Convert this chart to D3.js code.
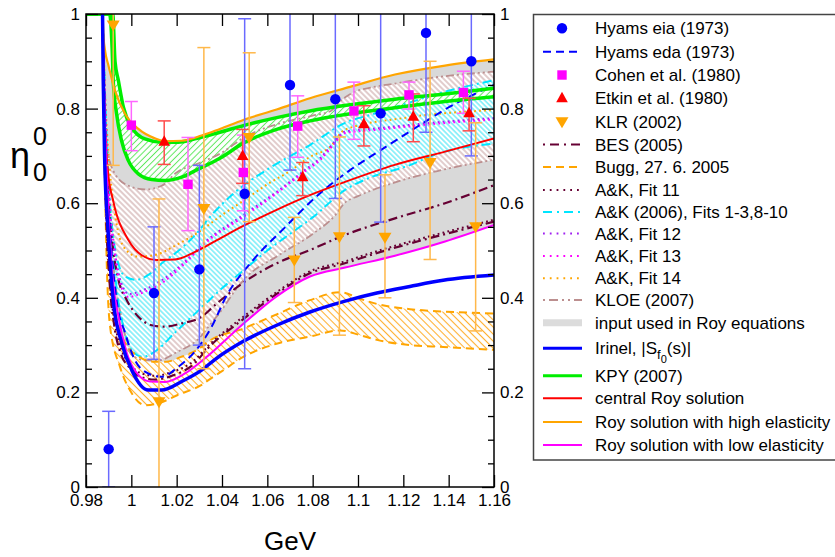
<!DOCTYPE html>
<html><head><meta charset="utf-8">
<script src="https://cdn.jsdelivr.net/npm/d3@7"></script>
<style>
body{margin:0;background:#fff}
text{font-family:"Liberation Sans",Arial,Helvetica,sans-serif;fill:#000}
</style>
</head><body>
<svg id="chart" width="835" height="557"></svg>
<script>
// ---------- measured points with error bars ----------
const hyamsE   = [0.99, 1.01, 1.03, 1.05, 1.07, 1.09, 1.11, 1.13, 1.15];
const hyamsEta = [0.08, 0.41, 0.46, 0.62, 0.85, 0.82, 0.79, 0.96, 0.90];
const hyamsLo  = [0.00, 0.27, 0.30, 0.25, 0.67, 0.61, 0.56, 0.75, 0.70];
const hyamsHi  = [0.16, 0.55, 0.68, 0.99, 1.03, 1.03, 1.02, 1.17, 1.10];

const cohenE   = [1.0, 1.025, 1.0494, 1.0734, 1.0982, 1.1225, 1.1465];
const cohenEta = [0.765, 0.64, 0.665, 0.763, 0.795, 0.829, 0.834];
const cohenLo  = [0.711, 0.542, 0.584, 0.697, 0.735, 0.799, 0.790];
const cohenHi  = [0.815, 0.739, 0.744, 0.827, 0.856, 0.856, 0.879];

const etkinE   = [1.0145, 1.0491, 1.0756, 1.1026, 1.1244, 1.149];
const etkinEta = [0.730, 0.700, 0.655, 0.767, 0.783, 0.790];
const etkinLo  = [0.682, 0.642, 0.616, 0.721, 0.730, 0.753];
const etkinHi  = [0.774, 0.756, 0.686, 0.806, 0.831, 0.822];

const klrE   = [0.992, 1.0122, 1.032, 1.052, 1.0719, 1.0918, 1.1119, 1.1318, 1.1519];
const klrEta = [0.977, 0.180, 0.589, 0.739, 0.480, 0.529, 0.528, 0.686, 0.550];
const klrLo  = [0.680, -0.25, 0.250, 0.561, 0.390, 0.321, 0.400, 0.481, 0.330];
const klrHi  = [1.280, 0.609, 0.929, 0.918, 0.570, 0.740, 0.660, 0.900, 0.770];

// ---------- curves: [E (GeV), eta] ----------
const royHigh = [[0.9873,1],[0.9877,0.955],[0.9885,0.92],[0.9898,0.893],[0.9928,0.838],[0.9972,0.789],[1.0031,0.757],[1.0104,0.737],[1.0149,0.731],[1.0222,0.732],[1.031,0.743],[1.0391,0.757],[1.0494,0.776],[1.0641,0.798],[1.0788,0.822],[1.0965,0.846],[1.1163,0.872],[1.1384,0.891],[1.16,0.904]];
const royCentral = [[0.9873,1],[0.9877,0.9],[0.9882,0.78],[0.9898,0.662],[0.992,0.605],[0.9987,0.522],[1.0046,0.49],[1.0112,0.48],[1.0193,0.481],[1.0281,0.497],[1.037,0.52],[1.0494,0.552],[1.0641,0.586],[1.0788,0.617],[1.0943,0.645],[1.1162,0.681],[1.1384,0.709],[1.16,0.737]];
const royLow = [[0.9873,1],[0.9877,0.9],[0.9883,0.78],[0.9895,0.62],[0.9913,0.466],[0.9943,0.36],[0.998,0.283],[1.0031,0.237],[1.0082,0.223],[1.0149,0.222],[1.0237,0.24],[1.0325,0.272],[1.0494,0.345],[1.0641,0.403],[1.0788,0.445],[1.0943,0.464],[1.1163,0.489],[1.1384,0.519],[1.16,0.554]];
const irinel = [[0.9873,1],[0.9876,0.86],[0.9882,0.7],[0.9898,0.536],[0.992,0.395],[0.9958,0.304],[1.0002,0.247],[1.0075,0.205],[1.0134,0.205],[1.0222,0.223],[1.031,0.247],[1.037,0.27],[1.0494,0.308],[1.0641,0.342],[1.0788,0.37],[1.0935,0.392],[1.1083,0.41],[1.1229,0.424],[1.1376,0.437],[1.16,0.448]];
const kpyUpper = [[0.98,1],[0.9918,1],[0.9928,0.9],[0.9943,0.859],[0.9965,0.803],[1.0002,0.76],[1.006,0.736],[1.0134,0.729],[1.0207,0.729],[1.0281,0.736],[1.0391,0.75],[1.0494,0.764],[1.0641,0.781],[1.0788,0.795],[1.0965,0.808],[1.1163,0.82],[1.1384,0.831],[1.16,0.843]];
const kpyLower = [[0.98,1],[0.9904,1],[0.9915,0.93],[0.992,0.86],[0.9935,0.789],[0.9957,0.732],[0.9987,0.69],[1.0031,0.662],[1.009,0.65],[1.0149,0.648],[1.0222,0.655],[1.0295,0.672],[1.0391,0.695],[1.0494,0.727],[1.0641,0.756],[1.0788,0.774],[1.0965,0.789],[1.1163,0.802],[1.1384,0.815],[1.16,0.825]];
const hyamsEda = [[0.9873,1],[0.988,0.85],[0.989,0.68],[0.9905,0.55],[0.9935,0.395],[0.9973,0.325],[1.0016,0.268],[1.0075,0.24],[1.0134,0.233],[1.0207,0.254],[1.0295,0.295],[1.035,0.335],[1.0421,0.405],[1.0538,0.48],[1.068,0.55],[1.083,0.62],[1.0965,0.67],[1.1109,0.715],[1.1256,0.76],[1.1405,0.804],[1.16,0.85]];
const besUpper = [[0.9873,1],[0.9882,0.8],[0.9895,0.64],[0.992,0.501],[0.9943,0.438],[0.998,0.395],[1.0031,0.36],[1.009,0.342],[1.0149,0.339],[1.0222,0.346],[1.031,0.36],[1.037,0.385],[1.0494,0.432],[1.0641,0.473],[1.0788,0.501],[1.0943,0.533],[1.1163,0.568],[1.1384,0.6],[1.16,0.638]];
const besLower = [[0.9873,1],[0.988,0.75],[0.989,0.56],[0.9906,0.42],[0.9925,0.34],[0.9955,0.28],[0.9987,0.255],[1.0046,0.232],[1.0104,0.227],[1.0178,0.235],[1.0266,0.256],[1.0347,0.298],[1.0494,0.355],[1.0641,0.408],[1.0788,0.452],[1.0935,0.472],[1.11,0.497],[1.13,0.524],[1.16,0.561]];
const akFit11 = [[0.9873,1],[0.9882,0.72],[0.9892,0.55],[0.9908,0.42],[0.9928,0.345],[0.9958,0.288],[0.999,0.262],[1.0046,0.24],[1.0104,0.235],[1.0178,0.243],[1.0266,0.263],[1.0347,0.302],[1.0494,0.36],[1.0641,0.412],[1.0788,0.456],[1.0935,0.476],[1.11,0.501],[1.13,0.528],[1.16,0.565]];
const akFit12 = [[0.9873,1],[0.9887,0.78],[0.9902,0.62],[0.9927,0.5],[0.9953,0.435],[0.999,0.408],[1.006,0.418],[1.0134,0.437],[1.0222,0.47],[1.0325,0.518],[1.0494,0.575],[1.0641,0.624],[1.076,0.668],[1.083,0.694],[1.0895,0.729],[1.094,0.751],[1.11,0.759],[1.13,0.769],[1.16,0.78]];
const akFit13 = [[0.9873,1],[0.9885,0.78],[0.99,0.62],[0.9925,0.5],[0.995,0.43],[0.9987,0.402],[1.006,0.413],[1.0134,0.431],[1.0222,0.466],[1.0325,0.515],[1.0494,0.571],[1.0641,0.621],[1.076,0.665],[1.083,0.69],[1.0895,0.725],[1.094,0.748],[1.11,0.756],[1.13,0.766],[1.16,0.777]];
const akFit14 = [[0.9873,1],[0.9885,0.82],[0.99,0.7],[0.993,0.57],[0.997,0.505],[1.003,0.487],[1.01,0.49],[1.02,0.512],[1.03,0.54],[1.04,0.575],[1.05,0.607],[1.06,0.64],[1.07,0.668],[1.0788,0.698],[1.088,0.72],[1.094,0.755],[1.12,0.78],[1.16,0.797]];
const akBandUpper = [[0.9873,1],[0.9885,0.8],[0.99,0.64],[0.992,0.53],[0.9935,0.487],[0.9973,0.445],[1.002,0.438],[1.008,0.45],[1.0134,0.473],[1.0222,0.505],[1.0295,0.54],[1.0347,0.571],[1.045,0.62],[1.0612,0.675],[1.0788,0.723],[1.0943,0.77],[1.1063,0.788],[1.1209,0.81],[1.1356,0.832],[1.16,0.86]];
const akBandLower = [[0.9873,1],[0.989,0.75],[0.991,0.55],[0.9935,0.42],[0.997,0.33],[1.0,0.29],[1.005,0.275],[1.01,0.285],[1.02,0.33],[1.03,0.375],[1.04,0.42],[1.05,0.46],[1.06,0.5],[1.07,0.535],[1.08,0.57],[1.0943,0.628],[1.1063,0.656],[1.1209,0.677],[1.1356,0.705],[1.16,0.726]];
const kloeUpper = [[0.9873,1],[0.988,0.9],[0.9885,0.8],[0.9898,0.704],[0.9928,0.662],[0.9987,0.637],[1.006,0.629],[1.0134,0.637],[1.02,0.665],[1.03,0.685],[1.04,0.707],[1.05,0.74],[1.065,0.768],[1.08,0.785],[1.088,0.795],[1.092,0.815],[1.097,0.832],[1.1063,0.845],[1.1163,0.853],[1.1356,0.867],[1.16,0.878]];
const kloeLower = [[0.9873,1],[0.9885,0.8],[0.99,0.6],[0.9925,0.45],[0.996,0.35],[1.0,0.28],[1.006,0.268],[1.012,0.268],[1.02,0.285],[1.03,0.315],[1.035,0.345],[1.04,0.375],[1.045,0.41],[1.05,0.44],[1.065,0.49],[1.08,0.535],[1.09,0.575],[1.094,0.6],[1.1,0.615],[1.115,0.642],[1.135,0.668],[1.16,0.692]];
const buggUpper = [[0.9873,1],[0.9885,0.72],[0.99,0.52],[0.992,0.4],[0.995,0.33],[0.9987,0.295],[1.0035,0.275],[1.0095,0.265],[1.0155,0.265],[1.022,0.275],[1.03,0.293],[1.0347,0.31],[1.0494,0.335],[1.0641,0.365],[1.0788,0.395],[1.0921,0.412],[1.1009,0.398],[1.1083,0.387],[1.1229,0.376],[1.1376,0.371],[1.16,0.367]];
const buggLower = [[0.9873,1],[0.988,0.75],[0.989,0.5],[0.9906,0.34],[0.995,0.254],[1.0002,0.198],[1.006,0.173],[1.0119,0.177],[1.0207,0.195],[1.031,0.216],[1.0347,0.228],[1.04,0.245],[1.0494,0.275],[1.0641,0.303],[1.0788,0.318],[1.0921,0.331],[1.1009,0.321],[1.1083,0.311],[1.1229,0.3],[1.1376,0.296],[1.16,0.29]];

// ---------- axis ticks ----------
const xTicks = [0.98, 1.0, 1.02, 1.04, 1.06, 1.08, 1.1, 1.12, 1.14, 1.16];
const yTicks = [0, 0.2, 0.4, 0.6, 0.8, 1];
const yMinor = [0.05, 0.1, 0.15, 0.25, 0.3, 0.35, 0.45, 0.5, 0.55, 0.65, 0.7, 0.75, 0.85, 0.9, 0.95];

// ---------- layout ----------
const svg = d3.select("#chart");
const L = 86, R = 494, T = 14, B = 487;
const x = d3.scaleLinear().domain([0.98, 1.16]).range([L, R]);
const y = d3.scaleLinear().domain([0, 1]).range([B, T]);
const line = d3.line().x(d => x(d[0])).y(d => y(d[1])).curve(d3.curveMonotoneX);
const band = (up, lo) => line(up) + "L" + line(lo.slice().reverse()).slice(1) + "Z";

const defs = svg.append("defs");
defs.append("clipPath").attr("id", "plotClip")
  .append("rect").attr("x", L).attr("y", T).attr("width", R - L).attr("height", B - T);

function hatch(id, color, spacing, angle, width) {
  const p = defs.append("pattern").attr("id", id)
    .attr("patternUnits", "userSpaceOnUse")
    .attr("width", spacing).attr("height", spacing)
    .attr("patternTransform", `rotate(${angle})`);
  p.append("rect").attr("width", spacing).attr("height", spacing).attr("fill", "#fff");
  p.append("line").attr("x1", spacing / 2).attr("x2", spacing / 2)
    .attr("y1", 0).attr("y2", spacing)
    .attr("stroke", color).attr("stroke-width", width);
}
hatch("hBrown", "#c49a9a", 4.0, -45, 1);
hatch("hCyan", "#33e5f5", 3.6, -45, 1);
hatch("hGreen", "#5de85d", 4.4, 45, 1);
hatch("hOrange", "#ffb030", 5.0, -45, 1.1);

const plot = svg.append("g").attr("clip-path", "url(#plotClip)");

// shaded bands
plot.append("path").attr("d", band(royHigh, royLow)).attr("fill", "#d9d9d9");
plot.append("path").attr("d", band(kloeUpper, kloeLower)).attr("fill", "url(#hBrown)");
plot.append("path").attr("d", band(akBandUpper, akBandLower)).attr("fill", "url(#hCyan)");
plot.append("path").attr("d", band(kpyUpper, kpyLower)).attr("fill", "url(#hGreen)");
plot.append("path").attr("d", band(buggUpper, buggLower)).attr("fill", "url(#hOrange)");

function curve(data, color, width, dash) {
  plot.append("path").attr("d", line(data)).attr("fill", "none")
    .attr("stroke", color).attr("stroke-width", width)
    .attr("stroke-dasharray", dash || null);
}
const C = {
  blue: "#0000ff", bes: "#660033", orange: "#ffa500", cyan: "#00e5ff",
  purple: "#a020f0", magenta: "#ff00ff", kloe: "#bc8f8f", green: "#00ee00", red: "#ff0000"
};
const DASH = "8,5", DASHDOT = "9,4,2,4", DOT = "1.8,3.2", KLOE = "8,3,2,3,2,3";

curve(kloeUpper, C.kloe, 1.8, KLOE);
curve(kloeLower, C.kloe, 1.8, KLOE);
curve(akBandUpper, C.cyan, 2, DASHDOT);
curve(akBandLower, C.cyan, 2, DASHDOT);
curve(buggUpper, C.orange, 2, DASH);
curve(buggLower, C.orange, 2, DASH);
curve(besUpper, C.bes, 2.2, DASHDOT);
curve(besLower, C.bes, 2.2, DASHDOT);
curve(akFit11, C.bes, 2, DOT);
curve(akFit14, C.orange, 2, DOT);
curve(akFit12, C.purple, 2, DOT);
curve(akFit13, C.magenta, 2, DOT);
curve(hyamsEda, C.blue, 2, DASH);
curve(kpyUpper, C.green, 3.5);
curve(kpyLower, C.green, 3.5);
curve(royCentral, C.red, 2);
curve(royHigh, C.orange, 2.2);
curve(royLow, C.magenta, 2);
curve(irinel, C.blue, 3.5);

// error bars and markers
const pts = svg.append("g").attr("clip-path", "url(#plotClip)");
function errorBars(E, lo, hi, color) {
  E.forEach((e, i) => {
    const cx = x(e);
    pts.append("line").attr("x1", cx).attr("x2", cx).attr("y1", y(lo[i])).attr("y2", y(hi[i]))
      .attr("stroke", color).attr("stroke-width", 1.5);
    [lo[i], hi[i]].forEach(v => pts.append("line")
      .attr("x1", cx - 6.5).attr("x2", cx + 6.5).attr("y1", y(v)).attr("y2", y(v))
      .attr("stroke", color).attr("stroke-width", 1.5));
  });
}
errorBars(hyamsE, hyamsLo, hyamsHi, "#6a6aff");
errorBars(cohenE, cohenLo, cohenHi, "#ff66ff");
errorBars(etkinE, etkinLo, etkinHi, "#ff4a4a");
errorBars(klrE, klrLo, klrHi, "#ffb84a");

const marker = {
  circle: (g, cx, cy, c) => g.append("circle").attr("cx", cx).attr("cy", cy).attr("r", 5.2).attr("fill", c),
  square: (g, cx, cy, c) => g.append("rect").attr("x", cx - 4.7).attr("y", cy - 4.7).attr("width", 9.4).attr("height", 9.4).attr("fill", c),
  up: (g, cx, cy, c) => g.append("path").attr("d", `M${cx},${cy - 6.5}L${cx + 5.8},${cy + 4}L${cx - 5.8},${cy + 4}Z`).attr("fill", c),
  down: (g, cx, cy, c) => g.append("path").attr("d", `M${cx - 6.5},${cy - 4.5}L${cx + 6.5},${cy - 4.5}L${cx},${cy + 6.5}Z`).attr("fill", c)
};
hyamsE.forEach((e, i) => marker.circle(pts, x(e), y(hyamsEta[i]), C.blue));
cohenE.forEach((e, i) => marker.square(pts, x(e), y(cohenEta[i]), C.magenta));
etkinE.forEach((e, i) => marker.up(pts, x(e), y(etkinEta[i]), C.red));
klrE.forEach((e, i) => marker.down(pts, x(e), y(klrEta[i]), C.orange));

// ---------- axes ----------
const fmtY = d => d === 0 ? "0" : d === 1 ? "1" : d.toFixed(1);
const fmtX = d => String(+d.toFixed(2));
function styleAxis(g) {
  g.select(".domain").remove();
  g.selectAll(".tick line").attr("stroke", "#000").attr("stroke-width", 1.3);
  g.selectAll(".tick text").style("font-size", "17px").attr("fill", "#000")
    .style("font-family", '"Liberation Sans",Arial,sans-serif');
}
svg.append("g").attr("transform", `translate(${L},0)`)
  .call(d3.axisLeft(y).tickValues(yTicks).tickSize(-12).tickPadding(6).tickFormat(fmtY)).call(styleAxis);
svg.append("g").attr("transform", `translate(${L},0)`)
  .call(d3.axisLeft(y).tickValues(yMinor).tickSize(-6).tickFormat("")).call(styleAxis);
svg.append("g").attr("transform", `translate(${R},0)`)
  .call(d3.axisRight(y).tickValues(yTicks).tickSize(-12).tickPadding(6).tickFormat(fmtY)).call(styleAxis);
svg.append("g").attr("transform", `translate(${R},0)`)
  .call(d3.axisRight(y).tickValues(yMinor).tickSize(-6).tickFormat("")).call(styleAxis);
svg.append("g").attr("transform", `translate(0,${B})`)
  .call(d3.axisBottom(x).tickValues(xTicks).tickSize(-12).tickPadding(7).tickFormat(fmtX)).call(styleAxis);
svg.append("g").attr("transform", `translate(0,${T})`)
  .call(d3.axisTop(x).tickValues(xTicks).tickSize(-12).tickFormat("")).call(styleAxis);

svg.append("rect").attr("x", L).attr("y", T).attr("width", R - L).attr("height", B - T)
  .attr("fill", "none").attr("stroke", "#000").attr("stroke-width", 1.5);

// axis titles
svg.append("text").attr("x", 290).attr("y", 550).attr("text-anchor", "middle")
  .style("font-size", "26px").text("GeV");
const yl = svg.append("g");
yl.append("text").attr("x", 10).attr("y", 168).style("font-size", "36px").text("η");
yl.append("text").attr("x", 33).attr("y", 145).style("font-size", "25px").text("0");
yl.append("text").attr("x", 33).attr("y", 181).style("font-size", "25px").text("0");

// ---------- legend ----------
const leg = svg.append("g");
leg.append("rect").attr("x", 533.5).attr("y", 14.5).attr("width", 320).attr("height", 445.5)
  .attr("fill", "#fff").attr("stroke", "#444").attr("stroke-width", 1.5);
const legendItems = [
  { label: "Hyams eia (1973)", y: 28.3, kind: "circle", color: C.blue },
  { label: "Hyams eda (1973)", y: 51.7, kind: "line", color: C.blue, w: 2, dash: DASH },
  { label: "Cohen et al. (1980)", y: 75, kind: "square", color: C.magenta },
  { label: "Etkin et al. (1980)", y: 98.3, kind: "up", color: C.red },
  { label: "KLR (2002)", y: 121.7, kind: "down", color: C.orange },
  { label: "BES (2005)", y: 144.5, kind: "line", color: C.bes, w: 2, dash: "2,5,9,5" },
  { label: "Bugg, 27. 6. 2005", y: 167, kind: "line", color: C.orange, w: 2, dash: DASH },
  { label: "A&K, Fit 11", y: 190, kind: "line", color: C.bes, w: 2, dash: "1.8,5" },
  { label: "A&K (2006), Fits 1-3,8-10", y: 212, kind: "line", color: C.cyan, w: 2, dash: "9,5,2,5" },
  { label: "A&K, Fit 12", y: 233.5, kind: "line", color: C.purple, w: 2, dash: "1.8,5" },
  { label: "A&K, Fit 13", y: 256, kind: "line", color: C.magenta, w: 2, dash: "1.8,5" },
  { label: "A&K, Fit 14", y: 278.3, kind: "line", color: C.orange, w: 2, dash: "1.8,5" },
  { label: "KLOE (2007)", y: 300, kind: "line", color: C.kloe, w: 2, dash: "2,4,9,4,2,4" },
  { label: "input used in Roy equations", y: 322.7, kind: "line", color: "#dcdcdc", w: 7 },
  { label: "Irinel", y: 348.3, kind: "line", color: C.blue, w: 3 },
  { label: "KPY (2007)", y: 375.7, kind: "line", color: C.green, w: 3 },
  { label: "central Roy solution", y: 398.3, kind: "line", color: C.red, w: 2 },
  { label: "Roy solution with high elasticity", y: 422, kind: "line", color: C.orange, w: 2 },
  { label: "Roy solution with low elasticity", y: 445, kind: "line", color: C.magenta, w: 2 }
];
legendItems.forEach(it => {
  const cy = it.y;
  if (it.kind === "line") {
    leg.append("line").attr("x1", 543).attr("x2", 582).attr("y1", cy).attr("y2", cy)
      .attr("stroke", it.color).attr("stroke-width", it.w)
      .attr("stroke-dasharray", it.dash || null);
  } else {
    marker[it.kind](leg, 562, cy, it.color);
  }
  const t = leg.append("text").attr("x", 595).attr("y", cy + 6).style("font-size", "17px");
  if (it.label === "Irinel") {
    t.append("tspan").text("Irinel, |S");
    t.append("tspan").attr("dy", 5).style("font-size", "13px").text("f");
    t.append("tspan").attr("dy", 4).style("font-size", "11px").text("0");
    t.append("tspan").attr("dy", -9).text("(s)|");
  } else {
    t.text(it.label);
  }
});
</script>
</body></html>
